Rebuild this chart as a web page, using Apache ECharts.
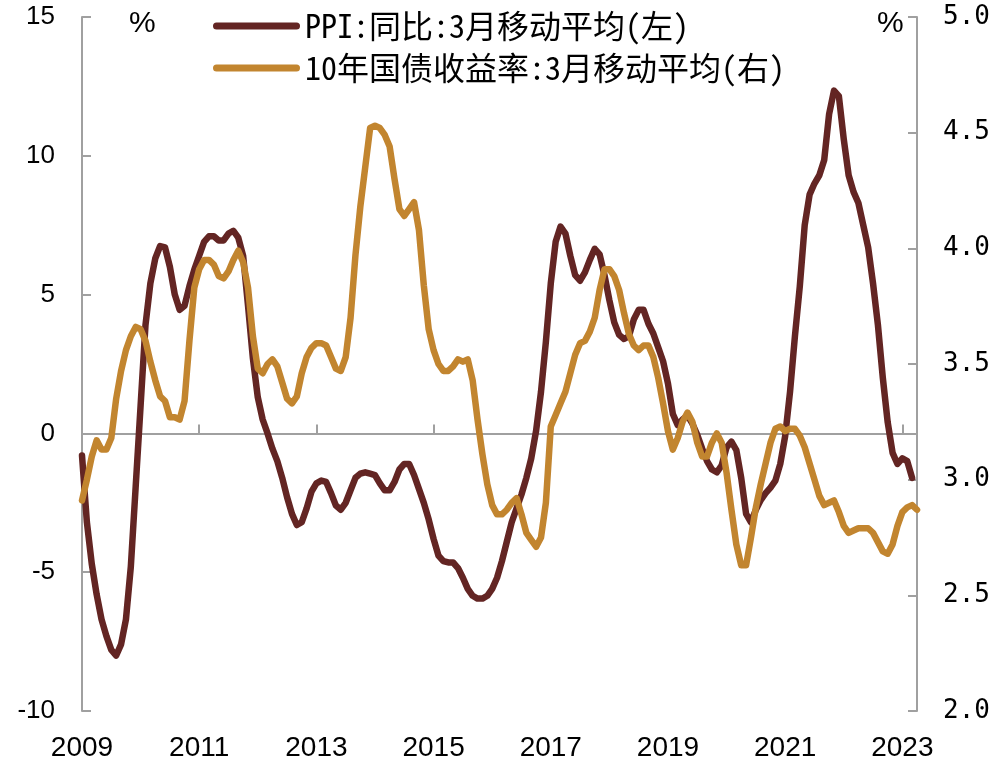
<!DOCTYPE html>
<html>
<head>
<meta charset="utf-8">
<script src="https://cdn.jsdelivr.net/npm/echarts@6/dist/echarts.min.js"></script>
<style>
html,body{margin:0;padding:0;background:#fff;}
#chart{width:1008px;height:770px;}
</style>
</head>
<body>
<div id="chart"></div>
<script>
// Months 2009-01 .. 2023-04
const startYear = 2009;
const monthCount = 172;
const months = [];
for (let k = 0; k < monthCount; k++) {
  const y = startYear + Math.floor(k / 12);
  const m = (k % 12) + 1;
  months.push(y + '-' + (m < 10 ? '0' + m : m));
}

const seriesNames = ['PPI:同比:3月移动平均(左)', '10年国债收益率:3月移动平均(右)'];

// PPI YoY, 3-month moving average (%), left axis
const ppi = [
  -0.8,-3.2,-4.7,-5.8,-6.7,-7.3,-7.8,-8.0,-7.6,-6.7,-4.8,-1.9,
  1.0,3.9,5.4,6.3,6.75,6.7,6.0,5.0,4.45,4.6,5.3,5.9,
  6.4,6.9,7.1,7.1,6.95,6.95,7.2,7.3,7.05,6.4,4.6,2.7,
  1.3,0.5,0.0,-0.55,-1.0,-1.6,-2.3,-2.9,-3.3,-3.2,-2.7,-2.1,
  -1.8,-1.7,-1.75,-2.15,-2.6,-2.75,-2.5,-2.05,-1.6,-1.45,-1.4,-1.45,
  -1.5,-1.8,-2.05,-2.05,-1.75,-1.3,-1.1,-1.1,-1.5,-2.0,-2.5,-3.1,
  -3.8,-4.4,-4.6,-4.65,-4.65,-4.85,-5.2,-5.6,-5.85,-5.95,-5.95,-5.85,
  -5.6,-5.2,-4.6,-3.9,-3.2,-2.7,-2.2,-1.6,-0.9,0.1,1.5,3.3,
  5.4,6.9,7.45,7.2,6.4,5.7,5.5,5.8,6.25,6.65,6.45,5.7,
  4.8,4.0,3.55,3.4,3.5,4.1,4.45,4.45,3.95,3.6,3.1,2.6,
  1.8,0.7,0.3,0.5,0.65,0.35,-0.05,-0.55,-1.0,-1.3,-1.4,-1.15,
  -0.5,-0.3,-0.6,-1.6,-2.9,-3.2,-2.75,-2.4,-2.15,-1.95,-1.7,-1.1,
  -0.1,1.5,3.5,5.3,7.5,8.6,9.0,9.3,9.85,11.5,12.35,12.15,
  10.6,9.3,8.7,8.3,7.5,6.7,5.4,3.9,2.0,0.4,-0.7,-1.1,
  -0.9,-1.0,-1.6,null
];

// 10Y government bond yield, 3-month moving average (%), right axis
const bondYield = [
  2.91,3.00,3.10,3.17,3.13,3.13,3.18,3.35,3.47,3.56,3.62,3.66,
  3.65,3.60,3.51,3.43,3.36,3.34,3.27,3.27,3.26,3.34,3.60,3.83,
  3.91,3.95,3.95,3.93,3.88,3.87,3.90,3.95,3.99,3.94,3.83,3.62,
  3.48,3.46,3.50,3.52,3.49,3.42,3.35,3.33,3.36,3.46,3.53,3.57,
  3.59,3.59,3.58,3.53,3.48,3.47,3.53,3.70,3.97,4.18,4.35,4.52,
  4.53,4.52,4.49,4.44,4.30,4.17,4.14,4.17,4.20,4.08,3.84,3.65,
  3.56,3.50,3.47,3.47,3.49,3.52,3.51,3.52,3.43,3.26,3.11,2.98,
  2.89,2.85,2.85,2.87,2.90,2.92,2.85,2.77,2.74,2.71,2.75,2.90,
  3.23,3.28,3.33,3.38,3.46,3.54,3.59,3.60,3.64,3.70,3.82,3.91,
  3.91,3.88,3.82,3.72,3.63,3.58,3.56,3.58,3.58,3.53,3.44,3.33,
  3.21,3.13,3.18,3.25,3.29,3.25,3.16,3.10,3.10,3.16,3.20,3.16,
  3.03,2.87,2.72,2.63,2.63,2.75,2.88,2.98,3.07,3.16,3.22,3.23,
  3.21,3.22,3.22,3.19,3.14,3.07,3.00,2.93,2.89,2.90,2.91,2.86,
  2.80,2.77,2.78,2.79,2.79,2.79,2.77,2.73,2.69,2.68,2.72,2.80,
  2.86,2.88,2.89,2.87
];

const leftTicks = { min: -10, max: 15, interval: 5 };
const rightTicks = { min: 2.0, max: 5.0, interval: 0.5 };
const labelEvery = 24;

const colorPPI = '#632523';
const colorYield = '#C2852F';
const axisGray = '#a0a0a0';

// capsule-shaped legend key (thick line with round ends)
const capsuleIcon = 'path://M3.5,0 L83.5,0 A3.5,3.5 0 0 1 83.5,7 L3.5,7 A3.5,3.5 0 0 1 3.5,0 Z';

const chart = echarts.init(document.getElementById('chart'), null, { renderer: 'canvas' });

chart.setOption({
  animation: false,
  backgroundColor: '#ffffff',
  grid: { left: 82, right: 91, top: 17, bottom: 59, containLabel: false },
  legend: {
    orient: 'vertical',
    left: 208,
    top: 5,
    icon: capsuleIcon,
    itemWidth: 87,
    itemHeight: 7,
    itemGap: 10,
    data: seriesNames,
    textStyle: {
      fontFamily: "'Noto Sans Mono CJK SC', 'Noto Sans CJK SC', sans-serif",
      fontSize: 32,
      lineHeight: 32,
      color: '#000'
    },
    selectedMode: false
  },
  graphic: [
    { type: 'text', left: 129, top: 9, style: { text: '%', fontFamily: 'Liberation Sans, Arial, sans-serif', fontSize: 30, fill: '#000' } },
    { type: 'text', left: 877, top: 9, style: { text: '%', fontFamily: 'Liberation Sans, Arial, sans-serif', fontSize: 30, fill: '#000' } }
  ],
  xAxis: [
    {
      type: 'category',
      data: months,
      boundaryGap: false,
      position: 'bottom',
      axisLine: { show: false, onZero: false },
      axisTick: { show: false },
      splitLine: { show: false },
      axisLabel: {
        interval: function (idx) { return idx % labelEvery === 0; },
        formatter: function (v) { return v.slice(0, 4); },
        fontFamily: 'Liberation Sans, Arial, sans-serif',
        fontSize: 28,
        color: '#000',
        margin: 23,
        hideOverlap: false
      }
    },
    {
      type: 'category',
      data: months,
      boundaryGap: false,
      position: 'bottom',
      axisLine: { show: true, onZero: true, onZeroAxisIndex: 0, lineStyle: { color: axisGray, width: 2 } },
      axisTick: {
        show: true, inside: true, length: 9,
        interval: function (idx) { return idx % labelEvery === 0; },
        lineStyle: { color: axisGray, width: 2 }
      },
      axisLabel: { show: false },
      splitLine: { show: false }
    }
  ],
  yAxis: [
    {
      type: 'value',
      position: 'left',
      min: leftTicks.min, max: leftTicks.max, interval: leftTicks.interval,
      axisLine: { show: true, onZero: false, lineStyle: { color: axisGray, width: 2 } },
      axisTick: { show: true, inside: true, length: 9, lineStyle: { color: axisGray, width: 2 } },
      splitLine: { show: false },
      axisLabel: {
        fontFamily: 'Liberation Sans, Arial, sans-serif',
        fontSize: 26,
        color: '#000',
        margin: 27
      }
    },
    {
      type: 'value',
      position: 'right',
      min: rightTicks.min, max: rightTicks.max, interval: rightTicks.interval,
      axisLine: { show: true, onZero: false, lineStyle: { color: axisGray, width: 2 } },
      axisTick: { show: true, inside: true, length: 9, lineStyle: { color: axisGray, width: 2 } },
      splitLine: { show: false },
      axisLabel: {
        fontFamily: "'DejaVu Sans Mono', monospace",
        fontSize: 26,
        color: '#000',
        margin: 26,
        formatter: function (v) { return v.toFixed(1); }
      }
    }
  ],
  series: [
    {
      name: seriesNames[0],
      type: 'line',
      xAxisIndex: 0,
      yAxisIndex: 0,
      data: ppi,
      symbol: 'none',
      showSymbol: false,
      lineStyle: { color: colorPPI, width: 6.5, cap: 'round', join: 'round' },
      itemStyle: { color: colorPPI },
      z: 3
    },
    {
      name: seriesNames[1],
      type: 'line',
      xAxisIndex: 0,
      yAxisIndex: 1,
      data: bondYield,
      symbol: 'none',
      showSymbol: false,
      lineStyle: { color: colorYield, width: 6.5, cap: 'round', join: 'round' },
      itemStyle: { color: colorYield },
      z: 4
    }
  ]
});
</script>
</body>
</html>
